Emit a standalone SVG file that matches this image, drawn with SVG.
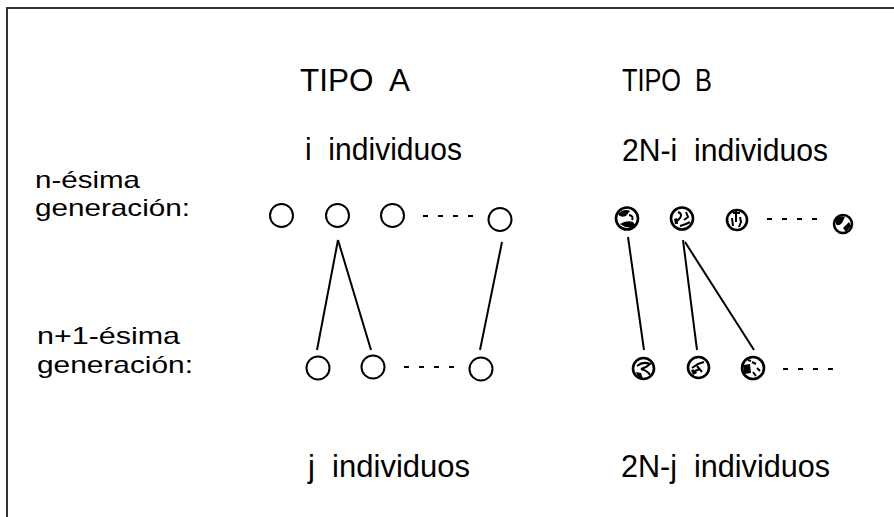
<svg xmlns="http://www.w3.org/2000/svg" width="894" height="517" viewBox="0 0 894 517">
<style>
.lbl{font-family:"Liberation Sans Narrow","Liberation Sans",Arial,sans-serif;fill:#000;white-space:pre}
.big{font-size:31px}
.sm{font-size:24px;font-family:"Liberation Sans",Arial,sans-serif}
.ca{fill:#fff;stroke:#000;stroke-width:2}
.cb{fill:#fff;stroke:#000;stroke-width:2.6}
.blob{fill:#000}
.scr{fill:none;stroke:#000;stroke-width:2}
.con{stroke:#000;stroke-width:2;fill:none}
.dash{stroke:#000;stroke-width:2;stroke-dasharray:5 10;fill:none}
</style>
<rect width="894" height="517" fill="#fff"/>
<path d="M7,520 V8 H900" fill="none" stroke="#333" stroke-width="2"/>

<g id="titles">
<text class="lbl big" x="300" y="91" textLength="110" lengthAdjust="spacingAndGlyphs" xml:space="preserve">TIPO  A</text>
<text class="lbl big" x="622" y="91" textLength="90" lengthAdjust="spacingAndGlyphs" xml:space="preserve">TIPO  B</text>
<text class="lbl big" x="305" y="160" textLength="157" lengthAdjust="spacingAndGlyphs" xml:space="preserve">i  individuos</text>
<text class="lbl big" x="622" y="161" textLength="206" lengthAdjust="spacingAndGlyphs" xml:space="preserve">2N-i  individuos</text>
<text class="lbl big" x="308" y="477" textLength="162" lengthAdjust="spacingAndGlyphs" xml:space="preserve">j  individuos</text>
<text class="lbl big" x="621" y="477" textLength="209" lengthAdjust="spacingAndGlyphs" xml:space="preserve">2N-j  individuos</text>
</g>
<g id="gen-labels">
<text class="lbl sm" x="35" y="188" textLength="105" lengthAdjust="spacingAndGlyphs">n-ésima</text>
<text class="lbl sm" x="35" y="216" textLength="155" lengthAdjust="spacingAndGlyphs">generación:</text>
<text class="lbl sm" x="37" y="344" textLength="143" lengthAdjust="spacingAndGlyphs">n+1-ésima</text>
<text class="lbl sm" x="37" y="373" textLength="156" lengthAdjust="spacingAndGlyphs">generación:</text>
</g>

<g id="connectors">
<line class="con" x1="338" y1="240" x2="317" y2="350"/>
<line class="con" x1="338" y1="240" x2="371" y2="350"/>
<line class="con" x1="502" y1="242" x2="480" y2="350"/>
<line class="con" x1="628" y1="237" x2="644" y2="350"/>
<line class="con" x1="683" y1="240" x2="697" y2="350"/>
<line class="con" x1="685" y1="242" x2="754" y2="350"/>
<path class="dash" d="M423,216 H475"/>
<path class="dash" d="M404,367 H455"/>
<path class="dash" d="M767,219 H820"/>
<path class="dash" d="M783,369 H835"/>
</g>

<g id="a-top-1"><circle class="ca" cx="281.5" cy="215.5" r="11.5"/></g>
<g id="a-top-2"><circle class="ca" cx="337.5" cy="215.5" r="11.5"/></g>
<g id="a-top-3"><circle class="ca" cx="392.5" cy="215.5" r="11.5"/></g>
<g id="a-top-4"><circle class="ca" cx="500" cy="219.5" r="11.5"/></g>
<g id="a-bot-1"><circle class="ca" cx="318" cy="368" r="11.5"/></g>
<g id="a-bot-2"><circle class="ca" cx="373" cy="367" r="11.5"/></g>
<g id="a-bot-3"><circle class="ca" cx="481" cy="369" r="11.5"/></g>

<g id="b-top-1">
<circle class="cb" cx="627" cy="218.5" r="11"/>
<path class="blob" d="M618,214 Q624,208 630,211 L626,216 Q620,218 618,214Z"/>
<path class="blob" d="M620,224 Q626,220 633,222 L636,226 Q628,230 620,224Z"/>
<path class="scr" d="M629,215 Q634,216 632,220"/>
</g>
<g id="b-top-2">
<circle class="cb" cx="682" cy="218.5" r="11"/>
<path class="scr" d="M678,212 Q683,214 680,218 L676,222 M686,212 L688,217 L684,220 M680,226 L686,224 L690,222"/>
<path class="blob" d="M674,219 L677,218 L678,224 L675,224Z"/>
</g>
<g id="b-top-3">
<circle class="cb" cx="737" cy="220" r="10"/>
<path class="scr" d="M733,213 H740 M736,211 V222 M732,218 L733,226 M740,217 L741,222 L739,227"/>
</g>
<g id="b-top-4">
<circle class="cb" cx="843" cy="224" r="9"/>
<path class="blob" d="M835,219 Q840,215 845,217 L842,223 Q838,227 836,224Z"/>
<path class="blob" d="M843,228 L849,222 L851,226 L846,232Z"/>
</g>
<g id="b-bot-1">
<circle class="cb" cx="643.5" cy="368.5" r="10.5"/>
<path class="scr" d="M637,366 Q643,361 650,364 Q646,368 641,369 Q648,371 650,375"/>
<path class="blob" d="M636,372 L641,373 L643,379 L638,377Z"/>
</g>
<g id="b-bot-2">
<circle class="cb" cx="698.5" cy="367.5" r="10.5"/>
<path class="scr" d="M692,368 L698,364 L704,362 M697,366 L702,372 M695,371 L700,369"/>
<path class="blob" d="M691,370 Q695,368 697,373 L693,375Z"/>
</g>
<g id="b-bot-3">
<circle class="cb" cx="753" cy="368" r="11"/>
<path class="blob" d="M743,365 L750,364 L751,373 L744,374Z"/>
<path class="scr" d="M752,362 L756,364 M757,368 L760,371 M753,372 L756,376 M748,360 L751,361"/>
</g>
</svg>
